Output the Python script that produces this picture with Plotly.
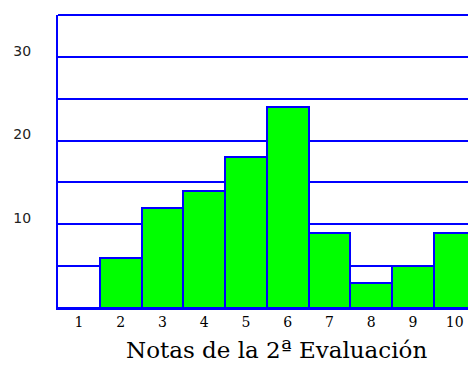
import plotly.graph_objects as go

# Histogram of marks for the second evaluation
notas = [1, 2, 3, 4, 5, 6, 7, 8, 9, 10]
alumnos = [0, 6, 12, 14, 18, 24, 9, 3, 5, 9]
y_ticks = [10, 20, 30]
x_title = "Notas de la 2ª Evaluación"

BLUE = "#0000FF"
GREEN = "#00FF00"

fig = go.Figure(
    go.Bar(
        x=notas,
        y=alumnos,
        width=1,
        marker=dict(color=GREEN, line=dict(color=BLUE, width=2)),
    )
)

fig.update_layout(
    width=468,
    height=365,
    margin=dict(l=58, r=0, t=15, b=57),
    paper_bgcolor="white",
    plot_bgcolor="white",
    showlegend=False,
    bargap=0,
)

fig.update_xaxes(
    range=[0.5, 10.32],
    tickvals=notas,
    ticktext=[str(n) for n in notas],
    tickfont=dict(family="DejaVu Serif", size=14, color="black"),
    showgrid=False,
    zeroline=False,
    showline=True,
    linecolor=BLUE,
    linewidth=2,
    ticks="",
)

fig.update_yaxes(
    range=[0, 35],
    tickvals=y_ticks,
    ticktext=[str(v) for v in y_ticks],
    tickfont=dict(family="DejaVu Sans", size=14, color="#222222"),
    ticklabelstandoff=22,
    ticklabelshift=-6,
    showgrid=True,
    gridcolor=BLUE,
    gridwidth=2,
    minor=dict(tick0=0, dtick=5, showgrid=True, gridcolor=BLUE, gridwidth=2),
    zeroline=False,
    showline=True,
    linecolor=BLUE,
    linewidth=2,
    ticks="",
)

# Top border of the plotting area
fig.add_shape(type="line", xref="paper", yref="paper", x0=0, x1=1, y0=1, y1=1,
              line=dict(color=BLUE, width=2))

fig.add_annotation(
    text=x_title,
    xref="paper", yref="paper",
    x=0.532, y=-0.143,
    xanchor="center", yanchor="middle",
    showarrow=False,
    font=dict(family="DejaVu Serif", size=23, color="black"),
)

fig.write_html("out.html")
